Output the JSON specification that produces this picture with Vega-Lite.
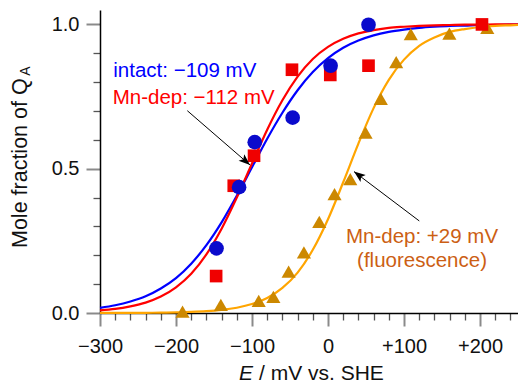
{
  "$schema": "https://vega.github.io/schema/vega-lite/v6.json",
  "width": 418,
  "height": 303,
  "autosize": {"type": "none"},
  "padding": {"left": 100, "top": 10, "right": 0, "bottom": 74},
  "background": "white",
  "config": {"view": {"stroke": null}},
  "datasets": {
    "curves": [
      {"s": "intact", "E": -300, "f": 0.018}, {"s": "intact", "E": -280, "f": 0.027}, {"s": "intact", "E": -260, "f": 0.040}, {"s": "intact", "E": -240, "f": 0.058},
      {"s": "intact", "E": -220, "f": 0.085}, {"s": "intact", "E": -200, "f": 0.121}, {"s": "intact", "E": -180, "f": 0.171}, {"s": "intact", "E": -160, "f": 0.235},
      {"s": "intact", "E": -140, "f": 0.314}, {"s": "intact", "E": -120, "f": 0.406}, {"s": "intact", "E": -100, "f": 0.505}, {"s": "intact", "E": -80, "f": 0.604},
      {"s": "intact", "E": -60, "f": 0.694}, {"s": "intact", "E": -40, "f": 0.772}, {"s": "intact", "E": -20, "f": 0.835}, {"s": "intact", "E": 0, "f": 0.883},
      {"s": "intact", "E": 20, "f": 0.919}, {"s": "intact", "E": 40, "f": 0.944}, {"s": "intact", "E": 60, "f": 0.962}, {"s": "intact", "E": 80, "f": 0.974},
      {"s": "intact", "E": 100, "f": 0.982}, {"s": "intact", "E": 120, "f": 0.988}, {"s": "intact", "E": 140, "f": 0.992}, {"s": "intact", "E": 160, "f": 0.995},
      {"s": "intact", "E": 180, "f": 0.996}, {"s": "intact", "E": 200, "f": 0.998}, {"s": "intact", "E": 220, "f": 0.998}, {"s": "intact", "E": 240, "f": 0.999},
      {"s": "intact", "E": 250, "f": 0.999},
      {"s": "Mn-dep", "E": -300, "f": 0.009}, {"s": "Mn-dep", "E": -280, "f": 0.014}, {"s": "Mn-dep", "E": -260, "f": 0.023}, {"s": "Mn-dep", "E": -240, "f": 0.036},
      {"s": "Mn-dep", "E": -220, "f": 0.057}, {"s": "Mn-dep", "E": -200, "f": 0.089}, {"s": "Mn-dep", "E": -180, "f": 0.136}, {"s": "Mn-dep", "E": -160, "f": 0.203},
      {"s": "Mn-dep", "E": -140, "f": 0.292}, {"s": "Mn-dep", "E": -120, "f": 0.400}, {"s": "Mn-dep", "E": -100, "f": 0.518}, {"s": "Mn-dep", "E": -80, "f": 0.635},
      {"s": "Mn-dep", "E": -60, "f": 0.737}, {"s": "Mn-dep", "E": -40, "f": 0.819}, {"s": "Mn-dep", "E": -20, "f": 0.880}, {"s": "Mn-dep", "E": 0, "f": 0.922},
      {"s": "Mn-dep", "E": 20, "f": 0.950}, {"s": "Mn-dep", "E": 40, "f": 0.969}, {"s": "Mn-dep", "E": 60, "f": 0.980}, {"s": "Mn-dep", "E": 80, "f": 0.988},
      {"s": "Mn-dep", "E": 100, "f": 0.992}, {"s": "Mn-dep", "E": 120, "f": 0.995}, {"s": "Mn-dep", "E": 140, "f": 0.997}, {"s": "Mn-dep", "E": 160, "f": 0.998},
      {"s": "Mn-dep", "E": 180, "f": 0.999}, {"s": "Mn-dep", "E": 200, "f": 0.999}, {"s": "Mn-dep", "E": 220, "f": 1.0}, {"s": "Mn-dep", "E": 240, "f": 1.0},
      {"s": "Mn-dep", "E": 250, "f": 1.0},
      {"s": "fluor", "E": -300, "f": 0.0001}, {"s": "fluor", "E": -280, "f": 0.0002}, {"s": "fluor", "E": -260, "f": 0.0004}, {"s": "fluor", "E": -240, "f": 0.0007},
      {"s": "fluor", "E": -220, "f": 0.0012}, {"s": "fluor", "E": -200, "f": 0.0021}, {"s": "fluor", "E": -180, "f": 0.0037}, {"s": "fluor", "E": -160, "f": 0.0063},
      {"s": "fluor", "E": -140, "f": 0.0107}, {"s": "fluor", "E": -120, "f": 0.0183}, {"s": "fluor", "E": -100, "f": 0.031}, {"s": "fluor", "E": -80, "f": 0.052},
      {"s": "fluor", "E": -60, "f": 0.087}, {"s": "fluor", "E": -40, "f": 0.140}, {"s": "fluor", "E": -20, "f": 0.219}, {"s": "fluor", "E": 0, "f": 0.325},
      {"s": "fluor", "E": 20, "f": 0.453}, {"s": "fluor", "E": 40, "f": 0.587}, {"s": "fluor", "E": 60, "f": 0.710}, {"s": "fluor", "E": 80, "f": 0.808},
      {"s": "fluor", "E": 100, "f": 0.878}, {"s": "fluor", "E": 120, "f": 0.926}, {"s": "fluor", "E": 140, "f": 0.955}, {"s": "fluor", "E": 160, "f": 0.974},
      {"s": "fluor", "E": 180, "f": 0.984}, {"s": "fluor", "E": 200, "f": 0.991}, {"s": "fluor", "E": 220, "f": 0.995}, {"s": "fluor", "E": 240, "f": 0.997},
      {"s": "fluor", "E": 250, "f": 0.998}
    ],
    "points": [
      {"s": "intact", "E": -146.7, "f": 0.224}, {"s": "intact", "E": -117, "f": 0.436}, {"s": "intact", "E": -96.4, "f": 0.592},
      {"s": "intact", "E": -46.5, "f": 0.677}, {"s": "intact", "E": 3.4, "f": 0.857}, {"s": "intact", "E": 53.3, "f": 0.999},
      {"s": "Mn-dep", "E": -147.2, "f": 0.128}, {"s": "Mn-dep", "E": -124, "f": 0.441}, {"s": "Mn-dep", "E": -97.3, "f": 0.545},
      {"s": "Mn-dep", "E": -47.4, "f": 0.843}, {"s": "Mn-dep", "E": 3, "f": 0.825}, {"s": "Mn-dep", "E": 53.3, "f": 0.857},
      {"s": "Mn-dep", "E": 202.6, "f": 1.0},
      {"s": "fluor", "E": -191.4, "f": 0.005}, {"s": "fluor", "E": -141, "f": 0.028}, {"s": "fluor", "E": -91.2, "f": 0.042},
      {"s": "fluor", "E": -71.9, "f": 0.056}, {"s": "fluor", "E": -51.8, "f": 0.143}, {"s": "fluor", "E": -31.7, "f": 0.210},
      {"s": "fluor", "E": -11.5, "f": 0.316}, {"s": "fluor", "E": 8.6, "f": 0.412}, {"s": "fluor", "E": 29.3, "f": 0.464},
      {"s": "fluor", "E": 49.4, "f": 0.625}, {"s": "fluor", "E": 69.5, "f": 0.742}, {"s": "fluor", "E": 89.7, "f": 0.869},
      {"s": "fluor", "E": 108.9, "f": 0.966}, {"s": "fluor", "E": 159.7, "f": 0.968}, {"s": "fluor", "E": 209.6, "f": 0.988}
    ],
    "arrows": [
      {"id": "a1", "E": -185.1, "f": 0.701, "E2": -102.6, "f2": 0.513},
      {"id": "a2", "E": 120.1, "f": 0.319, "E2": 34.2, "f2": 0.490}
    ]
  },
  "encoding": {
    "x": {
      "field": "E", "type": "quantitative",
      "scale": {"domain": [-300, 250], "nice": false, "zero": false},
      "axis": {
        "title": null, "grid": false,
        "values": [-300, -280, -260, -240, -220, -200, -180, -160, -140, -120, -100, -80, -60, -40, -20, 0, 20, 40, 60, 80, 100, 120, 140, 160, 180, 200, 220, 240],
        "domainColor": "#000000", "domainWidth": 1.5,
        "tickSize": {"condition": {"test": "datum.value % 100 === 0", "value": 13}, "value": 7},
        "tickColor": {"condition": {"test": "datum.value % 100 === 0", "value": "#8a8a8a"}, "value": "#555555"},
        "tickWidth": {"condition": {"test": "datum.value % 100 === 0", "value": 2}, "value": 1.3},
        "labelExpr": "datum.value % 100 === 0 ? (datum.value > 0 ? '+' + datum.value : (datum.value < 0 ? '−' + (-datum.value) : '0')) : ''",
        "labelFont": "Liberation Sans", "labelFontSize": 20, "labelColor": "#111111",
        "labelPadding": 10, "labelOverlap": false, "labelFlush": false, "labelBound": false
      }
    },
    "y": {
      "field": "f", "type": "quantitative",
      "scale": {"domain": [0, 1.05], "nice": false, "zero": false},
      "axis": {
        "title": null, "grid": false,
        "values": [0, 0.1, 0.2, 0.3, 0.4, 0.5, 0.6, 0.7, 0.8, 0.9, 1],
        "domainColor": "#000000", "domainWidth": 1.5,
        "tickSize": {"condition": {"test": "datum.value === 0 || datum.value === 0.5 || datum.value === 1", "value": 14}, "value": 7},
        "tickColor": {"condition": {"test": "datum.value === 0 || datum.value === 0.5 || datum.value === 1", "value": "#8a8a8a"}, "value": "#555555"},
        "tickWidth": {"condition": {"test": "datum.value === 0 || datum.value === 0.5 || datum.value === 1", "value": 2}, "value": 1.3},
        "labelExpr": "(datum.value === 0 || datum.value === 0.5 || datum.value === 1) ? format(datum.value, '.1f') : ''",
        "labelFont": "Liberation Sans", "labelFontSize": 20, "labelColor": "#111111",
        "labelPadding": 7, "labelOverlap": false, "labelFlush": false, "labelBound": false
      }
    }
  },
  "layer": [
    {
      "data": {"values": [{"k": "half"}]},
      "mark": {"type": "rule", "color": "#999999", "strokeWidth": 1.2, "strokeDash": [6, 4]},
      "encoding": {"x": {"datum": -300}, "x2": {"datum": 250}, "y": {"datum": 0.5}}
    },
    {
      "data": {"values": [{"k": "top"}]},
      "mark": {"type": "rule", "color": "#000000", "strokeWidth": 1.5},
      "encoding": {"x": {"datum": -300}, "x2": {"datum": 250}, "y": {"datum": 1.05}}
    },
    {
      "data": {"name": "curves"},
      "mark": {"type": "line", "interpolate": "monotone", "strokeWidth": 2.2},
      "encoding": {
        "stroke": {"field": "s", "type": "nominal", "scale": {"domain": ["intact", "Mn-dep", "fluor"], "range": ["#0000FF", "#FF0000", "#FFA500"]}, "legend": null}
      }
    },
    {
      "data": {"name": "points"},
      "transform": [{"filter": "datum.s === 'fluor'"}],
      "mark": {"type": "point", "shape": "triangle-up", "filled": true, "opacity": 1, "color": "#CC8800", "size": 200, "strokeWidth": 0}
    },
    {
      "data": {"name": "points"},
      "transform": [{"filter": "datum.s === 'Mn-dep'"}],
      "mark": {"type": "point", "shape": "square", "filled": true, "opacity": 1, "color": "#F00000", "size": 160, "strokeWidth": 0}
    },
    {
      "data": {"name": "points"},
      "transform": [{"filter": "datum.s === 'intact'"}],
      "mark": {"type": "point", "shape": "circle", "filled": true, "opacity": 1, "color": "#0A0ACC", "size": 215, "strokeWidth": 0}
    },
    {
      "data": {"name": "arrows"},
      "mark": {"type": "rule", "color": "#000000", "strokeWidth": 1},
      "encoding": {"x2": {"field": "E2"}, "y2": {"field": "f2"}}
    },
    {
      "data": {"name": "arrows"},
      "transform": [{"filter": "datum.id === 'a1'"}],
      "mark": {"type": "point", "shape": "M0,0L0.38,1L0,0.78L-0.38,1Z", "filled": true, "color": "#000000", "opacity": 1, "size": 520, "angle": 131, "strokeWidth": 0},
      "encoding": {"x": {"field": "E2", "type": "quantitative"}, "y": {"field": "f2", "type": "quantitative"}}
    },
    {
      "data": {"name": "arrows"},
      "transform": [{"filter": "datum.id === 'a2'"}],
      "mark": {"type": "point", "shape": "M0,0L0.38,1L0,0.78L-0.38,1Z", "filled": true, "color": "#000000", "opacity": 1, "size": 520, "angle": 307, "strokeWidth": 0},
      "encoding": {"x": {"field": "E2", "type": "quantitative"}, "y": {"field": "f2", "type": "quantitative"}}
    },
    {
      "data": {"values": [{"label": "intact: −109 mV", "E": -282.5, "f": 0.8168}]},
      "mark": {"type": "text", "align": "left", "baseline": "alphabetic", "font": "Liberation Sans", "fontSize": 20.5, "color": "#0000FF"},
      "encoding": {"text": {"field": "label"}}
    },
    {
      "data": {"values": [{"label": "Mn-dep: −112 mV", "E": -283.3, "f": 0.7243}]},
      "mark": {"type": "text", "align": "left", "baseline": "alphabetic", "font": "Liberation Sans", "fontSize": 20.5, "color": "#FF0000"},
      "encoding": {"text": {"field": "label"}}
    },
    {
      "data": {"values": [{"label": "Mn-dep: +29 mV", "E": 123.7, "f": 0.2436}, {"label": "(fluorescence)", "E": 123.7, "f": 0.1604}]},
      "mark": {"type": "text", "align": "center", "baseline": "alphabetic", "font": "Liberation Sans", "fontSize": 20.5, "color": "#CC5F14"},
      "encoding": {"text": {"field": "label"}}
    },
    {
      "data": {"values": [{"label": "Mole fraction of Q", "E": -396, "f": 0.2252}]},
      "mark": {"type": "text", "align": "left", "baseline": "alphabetic", "angle": 270, "font": "Liberation Sans", "fontSize": 21.5, "color": "#111111"},
      "encoding": {"text": {"field": "label"}}
    },
    {
      "data": {"values": [{"label": "A", "E": -391.5, "f": 0.822}]},
      "mark": {"type": "text", "align": "left", "baseline": "alphabetic", "angle": 270, "font": "Liberation Sans", "fontSize": 14, "color": "#111111"},
      "encoding": {"text": {"field": "label"}}
    },
    {
      "data": {"values": [{"label": "E", "E": -117.1, "f": -0.2322}]},
      "mark": {"type": "text", "align": "left", "baseline": "alphabetic", "font": "Liberation Sans", "fontStyle": "italic", "fontSize": 21, "color": "#111111"},
      "encoding": {"text": {"field": "label"}}
    },
    {
      "data": {"values": [{"label": "/ mV vs. SHE", "E": -90.8, "f": -0.2322}]},
      "mark": {"type": "text", "align": "left", "baseline": "alphabetic", "font": "Liberation Sans", "fontSize": 21, "color": "#111111"},
      "encoding": {"text": {"field": "label"}}
    }
  ]
}
